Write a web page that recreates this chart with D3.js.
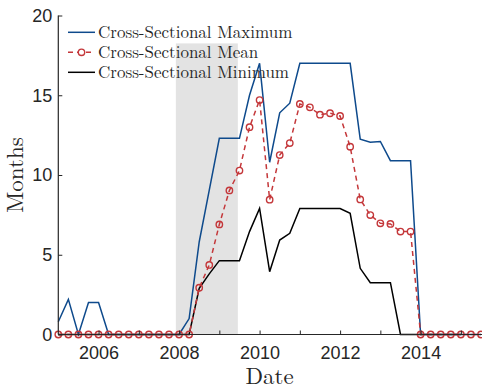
<!DOCTYPE html>
<html>
<head>
<meta charset="utf-8">
<script src="https://cdn.jsdelivr.net/npm/d3@7"></script>
<style>
  body { margin: 0; background: #fff; }
  svg { display: block; }
</style>
</head>
<body>
<div id="chart"></div>
<script>
// quarterly observations, 2005Q1 .. 2015Q3
const quarters = [
  "2005Q1","2005Q2","2005Q3","2005Q4","2006Q1","2006Q2","2006Q3","2006Q4",
  "2007Q1","2007Q2","2007Q3","2007Q4","2008Q1","2008Q2","2008Q3","2008Q4",
  "2009Q1","2009Q2","2009Q3","2009Q4","2010Q1","2010Q2","2010Q3","2010Q4",
  "2011Q1","2011Q2","2011Q3","2011Q4","2012Q1","2012Q2","2012Q3","2012Q4",
  "2013Q1","2013Q2","2013Q3","2013Q4","2014Q1","2014Q2","2014Q3","2014Q4",
  "2015Q1","2015Q2","2015Q3"
];
const maxVals = [
  0.8, 2.2, 0, 2.0, 2.0, 0, 0, 0, 0, 0, 0, 0, 0, 1.0, 5.8, 9.05,
  12.3, 12.3, 12.3, 15.0, 17.0, 10.8, 13.9, 14.5, 17.0, 17.0, 17.0, 17.0,
  17.0, 17.0, 12.25, 12.05, 12.1, 10.9, 10.9, 10.9, 0, 0, 0, 0, 0, 0, 0
];
const meanVals = [
  0, 0, 0, 0, 0, 0, 0, 0, 0, 0, 0, 0, 0, 0, 2.93, 4.36,
  6.9, 9.03, 10.28, 13.0, 14.7, 8.45, 11.25, 12.0, 14.45, 14.24, 13.78, 13.87,
  13.7, 11.77, 8.47, 7.49, 6.97, 6.93, 6.45, 6.45, 0, 0, 0, 0, 0, 0, 0
];
const minVals = [
  0, 0, 0, 0, 0, 0, 0, 0, 0, 0, 0, 0, 0, 0, 2.9, 3.8,
  4.63, 4.63, 4.63, 6.45, 7.9, 3.94, 5.92, 6.34, 7.9, 7.9, 7.9, 7.9,
  7.9, 7.6, 4.15, 3.25, 3.25, 3.25, 0, 0, 0, 0, 0, 0, 0
];
const recession = [2007.92, 2009.46];
const recessionTop = 18.25;
const yTicks = [0, 5, 10, 15, 20];
const xTicks = [2006, 2007, 2008, 2009, 2010, 2011, 2012, 2013, 2014, 2015];
const seriesNames = ["Cross-Sectional Maximum", "Cross-Sectional Mean", "Cross-Sectional Minimum"];

const width = 482, height = 386;
const blue = "#0e4a8c", red = "#c4373a";

const toYear = q => +q.slice(0, 4) + (+q.slice(5) - 1) * 0.25;

const x = d3.scaleLinear().domain([2005, 2015.5]).range([58.3, 481]);
const y = d3.scaleLinear().domain([0, 20]).range([334.5, 15.5]);

const svg = d3.select("#chart").append("svg")
  .attr("width", width)
  .attr("height", height);

// recession band
svg.append("rect")
  .attr("x", x(recession[0]))
  .attr("y", y(recessionTop))
  .attr("width", x(recession[1]) - x(recession[0]))
  .attr("height", y(0) - y(recessionTop))
  .attr("fill", "#e3e3e3");

const line = vals => d3.line()
  .x((d, i) => x(toYear(quarters[i])))
  .y(d => y(d))(vals);

svg.append("path").attr("d", line(maxVals))
  .attr("fill", "none").attr("stroke", blue).attr("stroke-width", 1.5);
svg.append("path").attr("d", line(minVals))
  .attr("fill", "none").attr("stroke", "#000").attr("stroke-width", 1.5);
svg.append("path").attr("d", line(meanVals))
  .attr("fill", "none").attr("stroke", red).attr("stroke-width", 1.5)
  .attr("stroke-dasharray", "5,4");
svg.append("g").selectAll("circle")
  .data(meanVals)
  .join("circle")
  .attr("cx", (d, i) => x(toYear(quarters[i])))
  .attr("cy", d => y(d))
  .attr("r", 3.2)
  .attr("fill", "none")
  .attr("stroke", red)
  .attr("stroke-width", 1.4);

// axes
const axisFont = "'Liberation Sans', Arial, sans-serif";
const gx = svg.append("g")
  .attr("transform", `translate(0,${y(0)})`)
  .call(d3.axisBottom(x).tickValues(xTicks).tickSize(-4).tickPadding(12)
    .tickFormat(d => d % 2 === 0 ? d : ""));
const gy = svg.append("g")
  .attr("transform", `translate(${x(2005)},0)`)
  .call(d3.axisLeft(y).tickValues(yTicks).tickSize(-4).tickPadding(6));

[gx, gy].forEach(g => {
  g.select(".domain").attr("stroke", "#262626").attr("stroke-width", 1.2);
  g.selectAll(".tick line").attr("stroke", "#262626");
  g.selectAll(".tick text").attr("fill", "#262626")
    .style("font-family", axisFont).style("font-size", "18px");
});
gx.select(".domain").attr("d", `M${x(2005)},0H${width}`);
gy.select(".domain").attr("d", `M0,${y(0)}V${y(20)}`);

const serif = "'Latin Modern Roman', 'CMU Serif', 'Liberation Serif', 'DejaVu Serif', serif";

svg.append("text")
  .attr("x", (x.range()[0] + x.range()[1]) / 2)
  .attr("y", 384)
  .attr("text-anchor", "middle")
  .style("font-family", serif)
  .style("font-size", "23px")
  .attr("fill", "#262626")
  .text("Date");

svg.append("text")
  .attr("transform", `translate(23,${(y(0) + y(20)) / 2}) rotate(-90)`)
  .attr("text-anchor", "middle")
  .style("font-family", serif)
  .style("font-size", "23px")
  .attr("fill", "#262626")
  .text("Months");

// legend
const legend = svg.append("g");
const rows = [
  { name: seriesNames[0], color: blue, dash: null, marker: false },
  { name: seriesNames[1], color: red, dash: "5,4", marker: true },
  { name: seriesNames[2], color: "#000", dash: null, marker: false }
];
rows.forEach((r, i) => {
  const ly = 32.3 + i * 20;
  legend.append("line")
    .attr("x1", 68).attr("x2", 95).attr("y1", ly).attr("y2", ly)
    .attr("stroke", r.color).attr("stroke-width", 1.5)
    .attr("stroke-dasharray", r.dash);
  if (r.marker) {
    legend.append("circle")
      .attr("cx", 81.5).attr("cy", ly).attr("r", 3.2)
      .attr("fill", "#fff").attr("stroke", r.color).attr("stroke-width", 1.4);
  }
  legend.append("text")
    .attr("x", 98).attr("y", ly + 5.5)
    .style("font-family", serif)
    .style("font-size", "17px")
    .attr("fill", "#262626")
    .text(r.name);
});
</script>
</body>
</html>
